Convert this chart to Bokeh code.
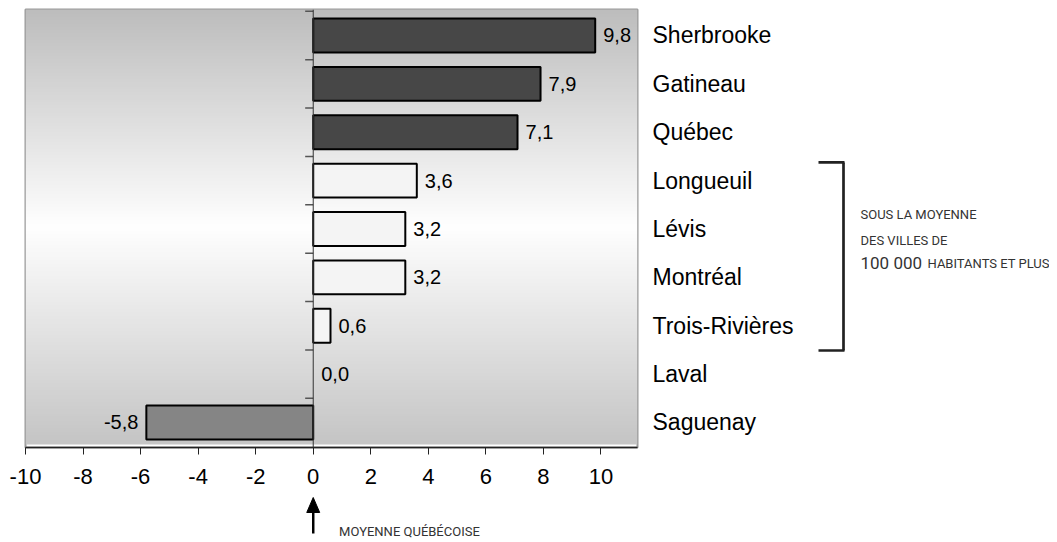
import numpy as np
from bokeh.plotting import figure
from bokeh.layouts import row, column
from bokeh.models import ColumnDataSource, Span, FixedTicker, Range1d
from bokeh.core.properties import value
from bokeh.embed import file_html
from bokeh.resources import INLINE

# ---- data ----
cities = ["Sherbrooke", "Gatineau", "Québec", "Longueuil", "Lévis",
          "Montréal", "Trois-Rivières", "Laval", "Saguenay"]
values = [9.8, 7.9, 7.1, 3.6, 3.2, 3.2, 0.6, 0.0, -5.8]
value_labels = ["9,8", "7,9", "7,1", "3,6", "3,2", "3,2", "0,6", "0,0", "-5,8"]
groups = ["haut", "haut", "haut", "sous", "sous", "sous", "sous", "nul", "bas"]
x_ticks = [-10, -8, -6, -4, -2, 0, 2, 4, 6, 8, 10]
x_tick_labels = ["-10", "-8", "-6", "-4", "-2", "0", "2", "4", "6", "8", "10"]
bracket_text = ["SOUS LA MOYENNE", "DES VILLES DE"]
bracket_text_big = "100 000"
bracket_text_end = "HABITANTS ET PLUS"
avg_text = "MOYENNE QUÉBÉCOISE"

group_colors = {"haut": "#474747", "sous": "#f4f4f4", "nul": "#f4f4f4", "bas": "#858585"}

n = len(cities)
ypos = [n - 1 - i for i in range(n)]

FONT = "Liberation Sans"
NOTE_FONT = "Roboto"
TXT = "#333333"

src = ColumnDataSource(dict(
    y=ypos, v=values, lab=value_labels,
    fill=[group_colors[g] for g in groups],
    la=[0.0 if v == 0 else 1.0 for v in values],
    align=["right" if v < 0 else "left" for v in values],
    xoff=[-8 if v < 0 else 8 for v in values],
))

W1, H1 = 812, 494
WT, HT = 1049, 542
xr = Range1d(-10, 11.27)
yr = Range1d(-0.517, 8.537)

p = figure(width=W1, height=H1, x_range=xr, y_range=yr,
           output_backend="svg", toolbar_location=None,
           y_axis_location="right",
           min_border_left=25, min_border_right=W1 - 637,
           min_border_top=9, min_border_bottom=H1 - 447)

p.grid.visible = False
p.background_fill_color = "white"
p.border_fill_color = "white"

# gradient background of plot area
stops_f = [0.0, 0.5, 1.0]
stops_g = [197, 255, 189]
rows_n = 300
g = np.interp(np.linspace(0, 1, rows_n), stops_f, stops_g).astype(np.uint8)
img = np.empty((rows_n, 2), dtype=np.uint32)
view = img.view(dtype=np.uint8).reshape((rows_n, 2, 4))
for c in range(3):
    view[:, :, c] = g[:, None]
view[:, :, 3] = 255
p.image_rgba(image=[img], x=-10, y=-0.455, dw=21.27, dh=9.0)

p.outline_line_color = "#9a9a9a"
p.outline_line_width = 2

# zero line
p.add_layout(Span(location=0, dimension="height", line_color="#333333", line_width=1))

# small ticks on the zero line between categories
bnd = [i + 0.5 for i in range(n)]
p.segment(x0=[-0.28] * n, x1=[0] * n, y0=bnd, y1=bnd, line_color="#555555", line_width=1.5)

# bars
p.hbar(y="y", left=0, right="v", height=0.7, source=src,
       fill_color="fill", line_color="black", line_width=2, line_alpha="la")

# value labels
p.text(x="v", y="y", text="lab", source=src, text_align="align", x_offset="xoff",
       text_baseline="middle", text_font=value(FONT), text_font_size="20px",
       text_color="black")

# x axis
xa = p.xaxis[0]
xa.ticker = FixedTicker(ticks=x_ticks)
xa.major_label_overrides = {t: l for t, l in zip(x_ticks, x_tick_labels)}
xa.axis_line_color = "#222222"
xa.axis_line_width = 1.5
xa.major_tick_line_color = "#222222"
xa.major_tick_in = 0
xa.major_tick_out = 7
xa.minor_tick_line_color = None
xa.major_label_text_font = FONT
xa.major_label_text_font_size = "22px"
xa.major_label_text_color = "black"
xa.major_label_standoff = 14

# y axis (city names on right)
ya = p.yaxis[0]
ya.ticker = FixedTicker(ticks=ypos)
ya.major_label_overrides = {y: c for y, c in zip(ypos, cities)}
ya.axis_line_color = None
ya.major_tick_line_color = None
ya.minor_tick_line_color = None
ya.major_label_standoff = 9
ya.major_label_text_font = FONT
ya.major_label_text_font_size = "23px"
ya.major_label_text_color = "black"

# ---- right panel: bracket and note (shares the y scale) ----
pr = figure(width=WT - W1, height=H1, x_range=Range1d(W1, WT), y_range=yr,
            output_backend="svg", toolbar_location=None,
            x_axis_location=None, y_axis_location=None,
            min_border_left=0, min_border_right=0,
            min_border_top=9, min_border_bottom=H1 - 447)
pr.grid.visible = False
pr.outline_line_color = None
bx, bl, bt, bb = 843, 818, 5.375, 1.488
pr.segment(x0=[bx, bl, bl], x1=[bx, bx + 1, bx + 1], y0=[bt, bt, bb], y1=[bb, bt, bb],
           line_color="#222222", line_width=2.7)
pr.text(x=[860, 860], y=[4.30, 3.76], text=bracket_text, text_font=value(NOTE_FONT),
        text_font_size="13px", text_baseline="middle", text_color=TXT)
pr.text(x=[860], y=[3.29], text=[bracket_text_big], text_font=value(NOTE_FONT),
        text_font_size="17px", text_baseline="middle", text_color=TXT)
pr.text(x=[927], y=[3.29], text=[bracket_text_end], text_font=value(NOTE_FONT),
        text_font_size="13px", text_baseline="middle", text_color=TXT)

# ---- bottom panel: arrow for the Quebec average (shares the x scale) ----
pb = figure(width=WT, height=HT - H1, x_range=xr, y_range=Range1d(HT - H1, 0),
            output_backend="svg", toolbar_location=None,
            x_axis_location=None, y_axis_location=None,
            min_border_left=25, min_border_right=WT - 637,
            min_border_top=0, min_border_bottom=0)
pb.grid.visible = False
pb.outline_line_color = None
pb.segment(x0=[0], x1=[0], y0=[39], y1=[14], line_color="black", line_width=2.5)
pb.patch(x=[-0.225, 0, 0.225], y=[18, 3, 18], fill_color="black", line_color="black")
pb.text(x=[0.9], y=[37], text=[avg_text], text_font=value(NOTE_FONT),
        text_font_size="13px", text_baseline="middle", text_color=TXT)

layout = column(row(p, pr, spacing=0), pb, spacing=0)
open("out.html", "w").write(file_html(layout, INLINE))
